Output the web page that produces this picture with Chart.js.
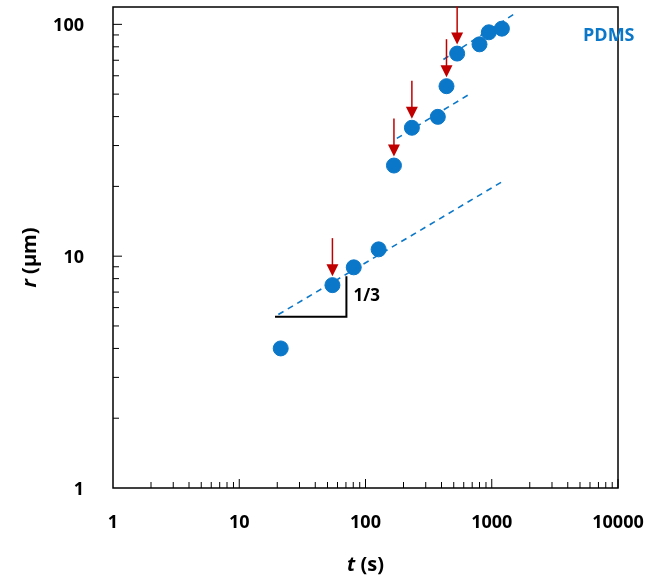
<!DOCTYPE html>
<html><head><meta charset="utf-8">
<script src="https://cdn.jsdelivr.net/npm/chart.js@4/dist/chart.umd.min.js"></script>
<style>html,body{margin:0;background:#fff}#wrap{width:656px;height:585px}</style>
</head><body><div id="wrap"><canvas id="c"></canvas></div>
<script>
/* PDMS radius vs time, log-log */
const tVals = [21.3, 54.7, 80.7, 127, 168, 233, 374, 438, 532, 800, 948, 1203];
const rVals = [4.0, 7.5, 8.95, 10.7, 24.6, 35.8, 39.9, 54.1, 74.8, 82, 92.4, 95.8];
const arrowT = [54.7, 168, 233, 438, 532];
const arrowR = [7.5, 24.6, 35.8, 54.1, 74.8];
const fit1 = [[20.4, 5.6], [1217, 21.0]];
const fit2 = [[177, 32.2], [662, 49.9]];
const fit3 = [[414, 70.5], [1513, 111]];
const slopeT = [19.2, 70.6, 70.6];
const slopeR = [5.48, 5.48, 8.19];
const xTicks = [1, 10, 100, 1000, 10000];
const yTicks = [1, 10, 100];

const BLUE = '#0b77c8', FONT = '"Open Sans", sans-serif';
const pts = (ts, rs) => ts.map((t, i) => ({x: t, y: rs[i]}));
const fitPts = f => f.map(p => ({x: p[0], y: p[1]}));
const fitDs = f => ({type: 'line', data: fitPts(f), borderColor: BLUE, borderWidth: 1.6,
  borderDash: [6, 5], pointRadius: 0, fill: false, showLine: true});

const decor = {
  id: 'decor',
  afterDraw(chart) {
    const {ctx, chartArea: a, scales: {x, y}} = chart;
    ctx.save();
    // frame
    ctx.strokeStyle = '#000'; ctx.lineWidth = 1.5;
    ctx.strokeRect(a.left, a.top, a.right - a.left, a.bottom - a.top);
    // inside ticks
    ctx.lineWidth = 1;
    for (let d = 1; d < 10000; d *= 10) for (let m = 2; m <= 10; m++) {
      const px = x.getPixelForValue(d * m);
      const len = m === 10 ? 9 : 6;
      ctx.beginPath(); ctx.moveTo(px, a.bottom); ctx.lineTo(px, a.bottom - len); ctx.stroke();
    }
    for (let d = 1; d < 100; d *= 10) for (let m = 2; m <= 10; m++) {
      const py = y.getPixelForValue(d * m);
      const len = m === 10 ? 9 : 6;
      ctx.beginPath(); ctx.moveTo(a.left, py); ctx.lineTo(a.left + len, py); ctx.stroke();
    }
    // tick labels
    ctx.fillStyle = '#000'; ctx.font = 'bold 18px ' + FONT; ctx.textBaseline = 'middle';
    ctx.textAlign = 'center';
    xTicks.forEach(v => ctx.fillText(String(v), x.getPixelForValue(v), a.bottom + 35));
    ctx.textAlign = 'right';
    yTicks.forEach(v => ctx.fillText(String(v), 84, y.getPixelForValue(v) + 2));
    // arrows
    ctx.strokeStyle = '#c00000'; ctx.fillStyle = '#c00000'; ctx.lineWidth = 1.5;
    arrowT.forEach((t, i) => {
      const px = x.getPixelForValue(t), py = y.getPixelForValue(arrowR[i]) - 9;
      ctx.beginPath(); ctx.moveTo(px, py - 38); ctx.lineTo(px, py - 8); ctx.stroke();
      ctx.beginPath(); ctx.moveTo(px - 6, py - 12); ctx.lineTo(px + 6, py - 12); ctx.lineTo(px, py); ctx.closePath(); ctx.fill();
    });
    // texts
    ctx.fillStyle = '#000'; ctx.textAlign = 'left';
    ctx.font = 'bold 17px ' + FONT;
    ctx.fillText('1/3', x.getPixelForValue(slopeT[1]) + 7, (y.getPixelForValue(slopeR[1]) + y.getPixelForValue(slopeR[2])) / 2);
    ctx.fillStyle = BLUE; ctx.font = 'bold 18px ' + FONT;
    ctx.fillText('PDMS', 583, 36);
    // axis titles
    ctx.fillStyle = '#000';
    const mixed = (parts, cx, cy) => {
      let w = 0;
      parts.forEach(p => { ctx.font = p[1]; w += ctx.measureText(p[0]).width; });
      let xx = cx - w / 2;
      parts.forEach(p => { ctx.font = p[1]; ctx.fillText(p[0], xx, cy); xx += ctx.measureText(p[0]).width; });
    };
    mixed([['t', 'italic bold 20px ' + FONT], [' (s)', 'bold 20px ' + FONT]], (a.left + a.right) / 2, 565);
    ctx.translate(30, (a.top + a.bottom) / 2 + 10); ctx.rotate(-Math.PI / 2);
    mixed([['r', 'italic bold 20px ' + FONT], [' (µm)', 'bold 20px ' + FONT]], 0, 0);
    ctx.restore();
  }
};

new Chart(document.getElementById('c'), {
  type: 'scatter',
  data: {datasets: [
    fitDs(fit1), fitDs(fit2), fitDs(fit3),
    {type: 'line', data: pts(slopeT, slopeR), borderColor: '#000', borderWidth: 2, pointRadius: 0, fill: false, showLine: true},
    {data: pts(tVals, rVals), backgroundColor: BLUE, borderColor: BLUE, pointRadius: 7.5}
  ]},
  options: {
    responsive: true, maintainAspectRatio: false, animation: false,
    layout: {autoPadding: false, padding: {top: 7, right: 38, left: 113, bottom: 97}},
    plugins: {legend: {display: false}, tooltip: {enabled: false}},
    scales: {
      x: {type: 'logarithmic', min: 1, max: 10000, display: false},
      y: {type: 'logarithmic', min: 1, max: 118.8, display: false}
    }
  },
  plugins: [decor]
});
</script></body></html>
